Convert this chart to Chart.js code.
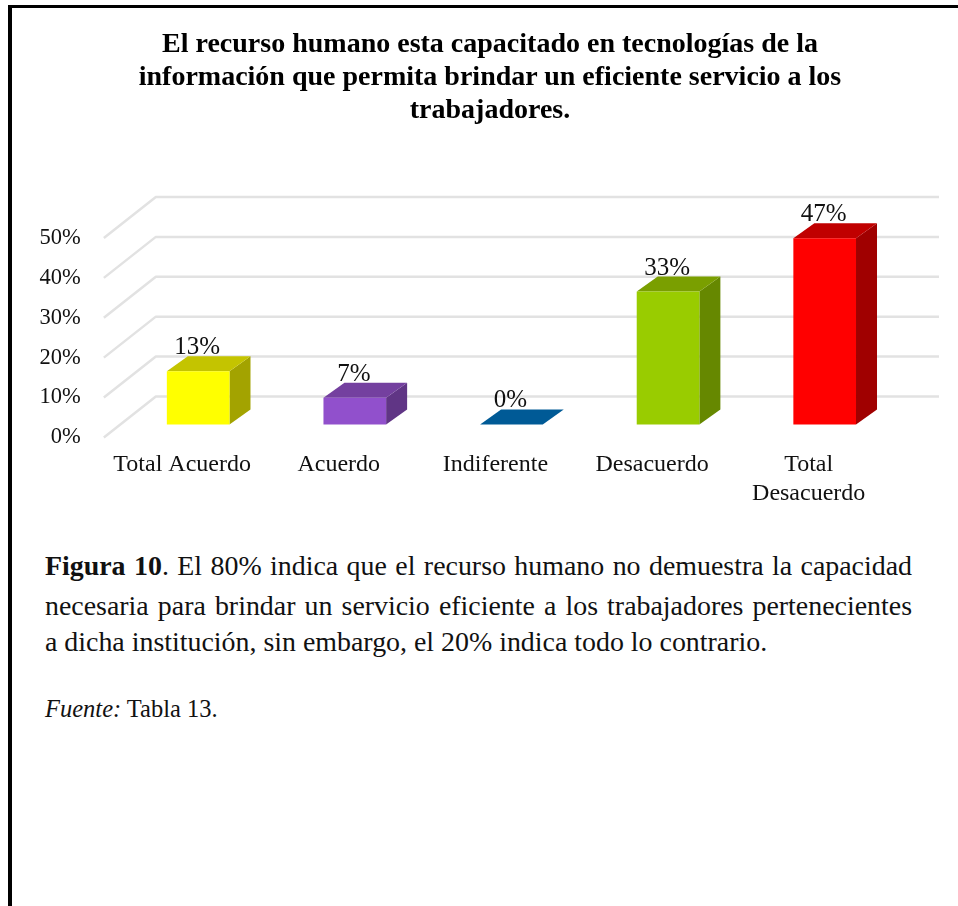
<!DOCTYPE html>
<html><head><meta charset="utf-8">
<script src="https://cdn.jsdelivr.net/npm/chart.js@4"></script>
<style>
html,body{margin:0;padding:0;background:#fff;width:958px;height:906px;overflow:hidden;font-family:"Liberation Serif",serif;color:#111}
#frame{position:absolute;left:8px;top:5px;width:950px;height:901px;border-left:4px solid #000;border-top:3px solid #000;box-sizing:border-box}
#wrap{position:absolute;left:0;top:0;width:958px;height:530px}
#title{position:absolute;left:90px;top:26px;width:800px;text-align:center;font-size:28px;font-weight:bold;line-height:33px;color:#000}
.ln{position:absolute;left:45px;width:867px;font-size:27.9px;line-height:30px;white-space:nowrap}
.j{text-align:justify;text-align-last:justify;white-space:normal}
</style></head><body>
<div id="frame"></div>
<div id="wrap"><canvas id="c"></canvas></div>
<div id="title"></div>
<div class="ln j" style="top:551px"><b>Figura 10</b>. El 80% indica que el recurso humano no demuestra la capacidad</div>
<div class="ln j" style="top:591px">necesaria para brindar un servicio eficiente a los trabajadores pertenecientes</div>
<div class="ln" style="top:627px">a dicha institución, sin embargo, el 20% indica todo lo contrario.</div>
<div class="ln" style="top:694px;font-size:24.5px"><i>Fuente:</i> Tabla 13.</div>
<script>
const titleLines = ["El recurso humano esta capacitado en tecnologías de la","información que permita brindar un eficiente servicio a los","trabajadores."];
const categories = ["Total Acuerdo","Acuerdo","Indiferente","Desacuerdo",["Total","Desacuerdo"]];
const values = [13.3,6.7,0,33.3,46.7];
const frontColors = ["#FFFF00","#9150CC","#005A96","#99CC00","#FF0000"];
const topColors = ["#C4C400","#74409F","#005A96","#7A9F00","#C00000"];
const sideColors = ["#A3A300","#603585","#005A96","#668800","#A00000"];

document.getElementById('title').innerHTML = titleLines.join('<br>');

const WALL = {dx:52,dy:-41};
const BAR_SHIFT = {dx:16,dy:-13};
const BAR_DEPTH = {dx:21,dy:-15};

const plugin3d = {
  id:'plugin3d',
  beforeDatasetsDraw(chart){
    const {ctx,chartArea,scales:{y}} = chart;
    ctx.save();
    ctx.strokeStyle='#e2e2e2';ctx.lineWidth=2.5;ctx.lineJoin='round';
    y.ticks.forEach(t=>{
      const py=y.getPixelForValue(t.value);
      ctx.beginPath();
      ctx.moveTo(chartArea.left,py);
      ctx.lineTo(chartArea.left+WALL.dx,py+WALL.dy);
      ctx.lineTo(chartArea.right+WALL.dx,py+WALL.dy);
      ctx.stroke();
    });
    ctx.restore();
    ctx.save();
    ctx.translate(BAR_SHIFT.dx,BAR_SHIFT.dy);
    const bars=chart.getDatasetMeta(0).data;
    bars.forEach((b,i)=>{
      const l=b.x-b.width/2,r=b.x+b.width/2,t=b.y,bt=b.base;
      const dx=BAR_DEPTH.dx,dy=BAR_DEPTH.dy;
      ctx.fillStyle=sideColors[i];
      ctx.beginPath();ctx.moveTo(r,t);ctx.lineTo(r+dx,t+dy);ctx.lineTo(r+dx,bt+dy);ctx.lineTo(r,bt);ctx.closePath();ctx.fill();
      ctx.fillStyle=topColors[i];
      ctx.beginPath();ctx.moveTo(l,t);ctx.lineTo(l+dx,t+dy);ctx.lineTo(r+dx,t+dy);ctx.lineTo(r,t);ctx.closePath();ctx.fill();
    });
  },
  afterDatasetsDraw(chart){
    const {ctx}=chart;
    ctx.restore();
    const bars=chart.getDatasetMeta(0).data;
    ctx.save();
    ctx.font='25px "Liberation Serif"';ctx.fillStyle='#111';ctx.textAlign='center';ctx.textBaseline='alphabetic';
    bars.forEach((b,i)=>{
      ctx.fillText(Math.round(values[i])+'%',b.x+BAR_SHIFT.dx-1,b.y+BAR_SHIFT.dy-17);
    });
    ctx.restore();
  }
};

new Chart(document.getElementById('c'),{
  type:'bar',
  data:{labels:categories,datasets:[{data:values,backgroundColor:frontColors,barPercentage:0.4,categoryPercentage:1,borderWidth:0,clip:false}]},
  plugins:[plugin3d],
  options:{
    responsive:true,maintainAspectRatio:false,animation:false,
    layout:{padding:{left:24.6,right:71,top:238,bottom:17}},
    plugins:{legend:{display:false},tooltip:{enabled:false},title:{display:false}},
    scales:{
      x:{grid:{display:false},border:{display:false},ticks:{color:'#111',font:{family:'"Liberation Serif"',size:24},padding:5,maxRotation:0,autoSkip:false}},
      y:{min:0,max:50,grid:{display:false},border:{display:false},ticks:{stepSize:10,color:'#111',font:{family:'"Liberation Serif"',size:22.5},padding:15,callback:v=>v+'%'}}
    }
  }
});
</script>
</body></html>
